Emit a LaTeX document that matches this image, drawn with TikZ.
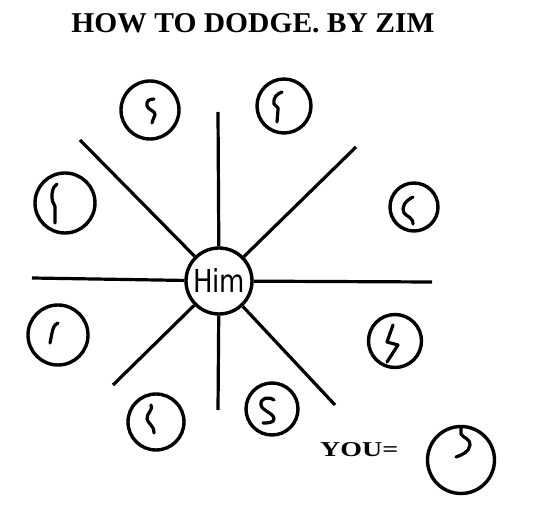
\documentclass[tikz,border=0pt]{standalone}
\usepackage{fontspec}
\setmainfont{Liberation Serif}
\newfontfamily\himfont{DejaVu Sans}
\begin{document}
\begin{tikzpicture}[x=1pt,y=-1pt,
  ring/.style={circle,draw,line width=3.4pt,inner sep=0pt},
  spoke/.style={line width=3.2pt},
  squig/.style={line width=3.2pt,line cap=round,line join=round}]
\useasboundingbox (0,0) rectangle (539,518);
\fill[white] (0,0) rectangle (539,518);
% title
\node (title) at (253,23) {\resizebox{363pt}{19pt}{\bfseries HOW TO DODGE. BY ZIM}};
% center
\node[ring,minimum size=66pt] (him) at (219,281) {\himfont\resizebox{52pt}{24pt}{Him}};
% spoke ends
\coordinate (sT) at (218,112);
\coordinate (sB) at (218,410);
\coordinate (sL) at (32,278);
\coordinate (sR) at (432,282);
\coordinate (sUL) at (80,140);
\coordinate (sUR) at (356,147);
\coordinate (sLL) at (113,385);
\coordinate (sLR) at (335,405);
\foreach \e in {sT,sB,sL,sR,sUL,sUR,sLL,sLR}{
  \draw[spoke] (\e) -- (him);
}
% dodgers
\node[ring,minimum size=58pt] (d1) at (150,110) {};
\node[ring,minimum size=54pt] (d2) at (284,106) {};
\node[ring,minimum size=60pt] (d3) at (65,203) {};
\node[ring,minimum size=48pt] (d4) at (414,207) {};
\node[ring,minimum size=60pt] (d5) at (58,335) {};
\node[ring,minimum size=53pt] (d6) at (395,341) {};
\node[ring,minimum size=56pt] (d7) at (156,422) {};
\node[ring,minimum size=52pt] (d8) at (272,409) {};
\node[ring,minimum size=67pt] (you) at (461,460) {};
% squiggles
\draw[squig] (154,99) .. controls (149,99) and (146,101) .. (147,106) .. controls (148,110) and (156,111) .. (155,115) .. controls (154,118) and (152,121) .. (152,123);
\draw[squig] (282,92) .. controls (277,94) and (273,97) .. (274,104) .. controls (275,107) and (279,106) .. (278,110) -- (277,122);
\draw[squig] (57,184) .. controls (52,188) and (52,192) .. (52,198) .. controls (52,204) and (56,204) .. (55,210) -- (55,223);
\draw[squig] (413,197) .. controls (405,201) and (401,207) .. (404,213) .. controls (407,217) and (413,217) .. (413,224);
\draw[squig] (58,323) .. controls (54,325) and (53,328) .. (52,333) -- (50,343);
\draw[squig] (393,325) -- (387,342) -- (398,345) -- (387,362);
\draw[squig] (151,405) .. controls (154,409) and (146,414) .. (147,419) .. controls (148,424) and (154,425) .. (154,433);
\draw[squig] (274,400) .. controls (268,396) and (260,398) .. (261,405) .. controls (262,411) and (274,413) .. (274,419) .. controls (274,423) and (267,423) .. (263,423);
\draw[squig] (461,427) -- (461,434) .. controls (463,438) and (471,439) .. (470,445) .. controls (469,452) and (462,455) .. (456,457);
% label
\node[anchor=west,inner sep=0pt] (youlbl) at (320,450) {\resizebox{78pt}{14pt}{\bfseries YOU=}};
\end{tikzpicture}
\end{document}
